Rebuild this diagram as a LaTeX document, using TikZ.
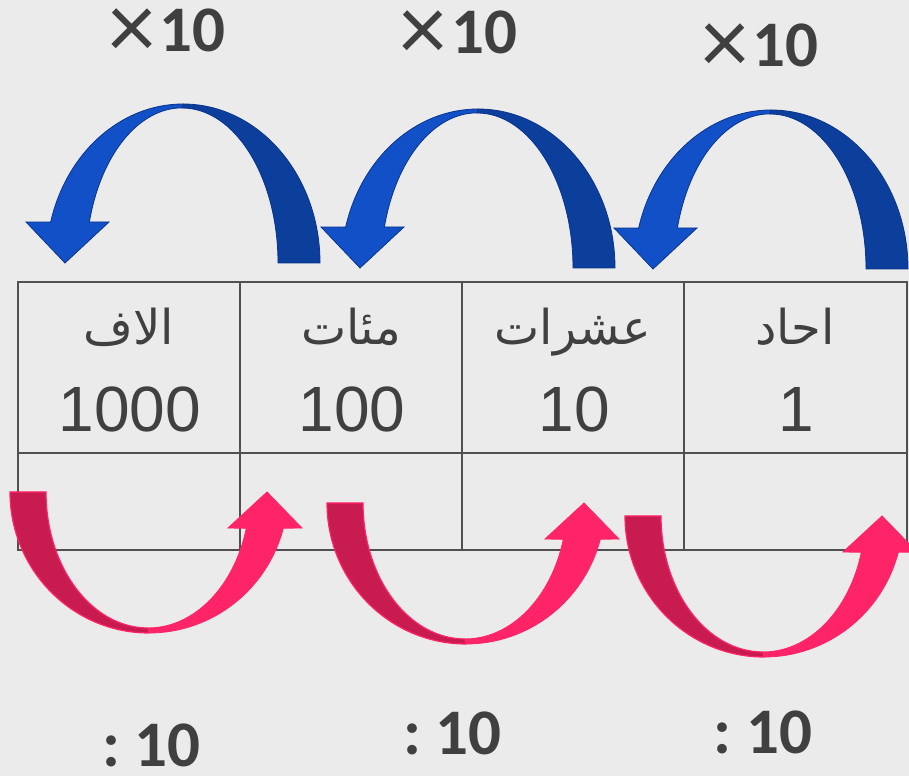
\documentclass[tikz,border=0pt]{standalone}
\usepackage{fontspec}
\newfontfamily\arabicfont[Script=Arabic]{DejaVu Sans}
\newfontfamily\valuefont{Liberation Sans}
\newfontfamily\opfont{Carlito}
\TeXXeTstate=1
\usepackage{xcolor}
\definecolor{pagegrey}{RGB}{235,235,235}
\definecolor{textgrey}{RGB}{64,64,64}
\definecolor{gridgrey}{RGB}{80,80,80}
\definecolor{bluelight}{RGB}{18,80,200}
\definecolor{bluedark}{RGB}{12,62,156}
\definecolor{blueedge}{RGB}{10,52,140}
\definecolor{pinklight}{RGB}{255,36,104}
\definecolor{pinkdark}{RGB}{200,27,80}
\newcommand{\timessign}{\raisebox{-7pt}{\fontsize{95}{95}\selectfont ×}\hspace{4pt}}

\begin{document}
\begin{tikzpicture}[x=1pt, y=1pt,
    gridline/.style={draw=gridgrey, line width=2.2pt},
    placename/.style={font=\arabicfont\fontsize{48}{52}\selectfont, text=textgrey,
                      anchor=base, inner sep=0pt},
    placevalue/.style={font=\valuefont\fontsize{64}{70}\selectfont, text=textgrey,
                       anchor=base, inner sep=0pt},
    oplabel/.style={font=\opfont\fontsize{65}{70}\selectfont, text=textgrey,
                    anchor=base, inner sep=0pt},
    mulfront/.style={fill=bluelight, draw=blueedge, line width=0.8pt},
    mulback/.style={fill=bluedark, draw=blueedge, line width=0.8pt},
    divfront/.style={fill=pinklight, draw=pinklight, line width=0.8pt},
    divback/.style={fill=pinkdark, draw=pinklight, line width=1.2pt}
]
\useasboundingbox[fill=pagegrey] (0,0) rectangle (909,776);

% place value table
\draw[gridline] (18,226) rectangle (907,494);
\draw[gridline] (18,323) -- (907,323);
\foreach \x in {240,462,684}
  \draw[gridline] (\x,226) -- (\x,494);

\node[placename] (thousands) at (129,431) {\beginR الاف\endR};
\node[placename] (hundreds)  at (351,431) {\beginR مئات\endR};
\node[placename] (tens)      at (573,431) {\beginR عشرات\endR};
\node[placename] (ones)      at (795,431) {\beginR احاد\endR};

\node[placevalue] (thousandsval) at (130,344) {1000};
\node[placevalue] (hundredsval)  at (352,344) {100};
\node[placevalue] (tensval)      at (574,344) {10};
\node[placevalue] (onesval)      at (796,344) {1};

% multiply arrows (right to left)
\foreach \dx/\dy in {0/0, 295/-5, 588/-6}{
  \begin{scope}[shift={(\dx,\dy)}]
    \filldraw[mulback] (320,513) arc[start angle=0, end angle=90, x radius=137, y radius=159]
      -- (182,668) arc[start angle=90, end angle=0, x radius=96, y radius=155] -- cycle;
    \filldraw[mulfront] (183,672) arc[start angle=90, end angle=165.1, x radius=137, y radius=159]
      -- (26,554) -- (65,513) -- (109,554) -- (89.4,554)
      arc[start angle=164.7, end angle=90, x radius=96, y radius=155] -- cycle;
  \end{scope}
}

% divide arrows (left to right)
\foreach \dx/\dy in {0/0, 317/-11, 615/-24}{
  \begin{scope}[shift={(\dx,\dy)}]
    \filldraw[divback] (10,284) arc[start angle=180, end angle=270, x radius=139, y radius=141]
      -- (148,148) arc[start angle=270, end angle=180, x radius=102, y radius=136] -- cycle;
    \filldraw[divfront] (149,143) arc[start angle=270, end angle=345.1, x radius=139, y radius=141]
      -- (302,248) -- (267,284) -- (228,248) -- (246.3,247.7)
      arc[start angle=344.5, end angle=270, x radius=102, y radius=136] -- cycle;
  \end{scope}
}

\node[oplabel] (mul1) at (167,724)   {\timessign\textbf{10}};
\node[oplabel] (mul2) at (458.5,722) {\timessign\textbf{10}};
\node[oplabel] (mul3) at (760,709)   {\timessign\textbf{10}};

\node[oplabel] (div1) at (151.5,10) {\textbf{:\ 10}};
\node[oplabel] (div2) at (452.5,22) {\textbf{:\ 10}};
\node[oplabel] (div3) at (763,23)   {\textbf{:\ 10}};
\end{tikzpicture}
\end{document}
